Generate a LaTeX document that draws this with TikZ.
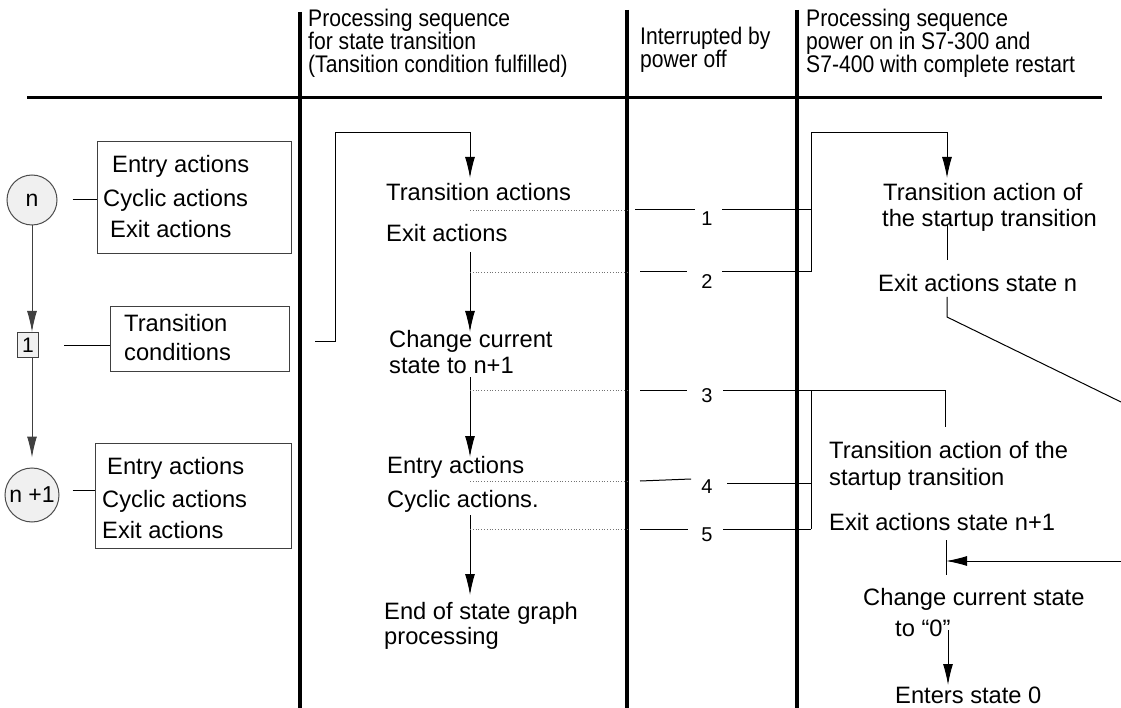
\documentclass[tikz,border=0pt]{standalone}
\usepackage{fontspec}
\setmainfont{Liberation Sans}
\newfontfamily\headfont[FakeStretch=0.88]{Liberation Sans}
\usetikzlibrary{arrows.meta,calc}
\begin{document}
\begin{tikzpicture}[x=1pt,y=-1pt,
  txt/.style={inner sep=0pt, anchor=base west, font=\fontsize{23.7}{25}\selectfont},
  hdr/.style={inner sep=0pt, anchor=base west, font=\headfont\fontsize{24}{24}\selectfont},
  num/.style={inner sep=0pt, anchor=base, font=\fontsize{20}{20}\selectfont},
  thin/.style={line width=1pt},
  col/.style={line width=3.5pt},
  dots/.style={dotted, line width=0.8pt, black!55},
  arr/.style={-{Latex[length=21pt,width=10pt]}, line width=1pt},
  boxed/.style={draw=black!75, line width=1pt, inner sep=0pt, anchor=north west},
  state/.style={circle, draw=black!70, fill=black!6, line width=1pt, inner sep=0pt, font=\fontsize{23}{23}\selectfont},
  sq/.style={draw=black!75, fill=black!6, line width=1pt, inner sep=0pt, minimum width=21pt, minimum height=25pt, font=\fontsize{21}{21}\selectfont},
]
\useasboundingbox (0,0) rectangle (1121,708);

% table rules
\draw[line width=3pt] (27,98) -- (1102,98);
\draw[col] (300,12) -- (300,708);
\draw[col] (627,10) -- (627,708);
\draw[col] (797,10) -- (797,708);

% column headings
\node[hdr] (h1a) at (308,27) {Processing sequence};
\node[hdr] (h1b) at (308,50) {for state transition};
\node[hdr] (h1c) at (308,73) {(Tansition condition fulfilled)};
\node[hdr] (h2a) at (640,45) {Interrupted by};
\node[hdr] (h2b) at (640,68) {power off};
\node[hdr] (h3a) at (806,27) {Processing sequence};
\node[hdr] (h3b) at (806,50) {power on in S7-300 and};
\node[hdr] (h3c) at (806,73) {S7-400 with complete restart};

% state graph
\node[state, minimum size=50pt] (s1) at (32,200) {n};
\node[boxed, minimum width=194pt, minimum height=112pt] (b1) at (97,141) {};
\node[txt] (b1a) at (112,173) {Entry actions};
\node[txt] (b1b) at (103,207) {Cyclic actions};
\node[txt] (b1c) at (110,238) {Exit actions};
\draw[thin] ($(s1.east)+(15,0)$) -- (s1.east -| b1.west);

\node[sq] (t1) at (28,345) {1};
\node[boxed, minimum width=179pt, minimum height=65pt] (b2) at (110,306) {};
\node[txt] (b2a) at (124,332) {Transition};
\node[txt] (b2b) at (124,360) {conditions};
\draw[thin] ($(t1.east)+(25,0)$) -- (t1.east -| b2.west);

\node[state, minimum size=54pt] (s2) at (32,495) {n +1};
\node[boxed, minimum width=196pt, minimum height=105pt] (b3) at (95,443) {};
\node[txt] (b3a) at (107,474) {Entry actions};
\node[txt] (b3b) at (102,507) {Cyclic actions};
\node[txt] (b3c) at (102,538) {Exit actions};
\draw[thin] ($(s2.east)+(13,-5)$) -- ($(s2.east -| b3.west)+(0,-5)$);

\draw[arr, black!75] (s1.south) -- (s1.south |- t1.north);
\draw[arr, black!75] (s1.south |- t1.south) -- ($(s2.north)+(0,-10)$);

% processing sequence for the state transition
\coordinate (tc) at (315,342);
\node[txt] (m1) at (386,201) {Transition actions};
\node[txt] (m2) at (386,242) {Exit actions};
\node[txt] (m3) at (389,348) {Change current};
\node[txt] (m3b) at (389,373) {state to n+1};
\node[txt] (m4) at (387,473) {Entry actions};
\node[txt] (m5) at (387,507) {Cyclic actions.};
\node[txt] (m6) at (384,619) {End of state graph};
\node[txt] (m6b) at (384,644) {processing};

\draw[arr] (tc) -- (335,342) -- (335,133) -- (470,133) -- (470,178);
\draw[arr] (470,252) -- (470,332);
\draw[arr] (470,377) -- (470,457);
\draw[arr] (470,515) -- (470,595);

% interruption points
\foreach \y in {210,272,390,481,529} \draw[dots] (470,\y) -- (627,\y);

\node[num] (n1) at (707,226) {1};
\node[num] (n2) at (707,289) {2};
\node[num] (n3) at (707,402) {3};
\node[num] (n4) at (707,493) {4};
\node[num] (n5) at (707,541) {5};

\draw[thin] (635,210) -- (695,210);
\draw[thin] (640,272) -- (687,272);
\draw[thin] (640,390) -- (687,390);
\draw[thin] (640,481) -- (691,479);
\draw[thin] (640,529) -- (688,529);

\draw[thin] (722,210) -- (811,210);
\draw[thin] (722,272) -- (811,272);
\draw[thin] (727,483) -- (811,483);
\draw[thin] (723,529) -- (811,529);
\draw[thin] (811,390) -- (811,529);
\draw[thin] (723,390) -- (945,390) -- (945,427);
\draw[arr] (811,272) -- (811,133) -- (947,133) -- (947,178);

% restart sequence
\node[txt] (r1) at (883,201) {Transition action of};
\node[txt] (r1b) at (882,227) {the startup transition};
\node[txt] (r2) at (878,292) {Exit actions state n};
\node[txt] (r3) at (829,458) {Transition action of the};
\node[txt] (r3b) at (829,485) {startup transition};
\node[txt] (r4) at (829,530) {Exit actions state n+1};
\node[txt] (r5) at (863,605) {Change current state};
\node[txt] (r5b) at (895,636) {to “0”};
\node[txt] (r6) at (895,703) {Enters state 0};

\coordinate (out) at (1121,402);
\coordinate (in) at (1121,561);
\draw[thin] (947,225) -- (947,260);
\draw[thin] (947,297) -- (947,317) -- (out);
\draw[thin] (946,540) -- (946,575);
\draw[arr] (in) -- (946,561);
\draw[arr] (948,630) -- (948,685);
\end{tikzpicture}
\end{document}
